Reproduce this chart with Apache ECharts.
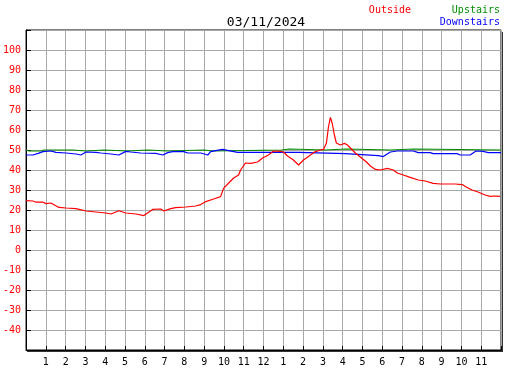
<!DOCTYPE html>
<html>
<head>
<meta charset="utf-8">
<script src="https://cdn.jsdelivr.net/npm/echarts@6/dist/echarts.min.js"></script>
<style>
  html, body { margin: 0; padding: 0; background: #fff; }
  #chart { width: 527px; height: 370px; }
</style>
</head>
<body>
<div id="chart"></div>
<script>
// outside temperature (hour of day, value)
var outsideHours = [0, 0.35, 0.5, 0.86, 1.01, 1.26, 1.66, 2.02, 2.52, 3.03, 3.53, 4.03, 4.29, 4.69, 5.04, 5.55, 5.95,
  6.4, 6.81, 6.96, 7.31, 7.56, 8.07, 8.57, 8.83, 9.08, 9.48, 9.83, 9.98, 10.24, 10.49, 10.74, 10.84, 11.09, 11.35,
  11.7, 11.95, 12.25, 12.51, 12.86, 13.01, 13.21, 13.51, 13.77, 14.02, 14.37, 14.62, 14.88, 15.03, 15.18, 15.28,
  15.38, 15.48, 15.58, 15.68, 15.88, 16.09, 16.24, 16.39, 16.64, 16.89, 17.2, 17.4, 17.65, 17.9, 18.26, 18.56,
  18.76, 19.06, 19.41, 19.82, 20.17, 20.57, 20.93, 21.68, 22.04, 22.24, 22.54, 22.84, 23.2, 23.45, 23.7, 23.95]
var outsideTemps = [24.7, 24.5, 23.9, 23.9, 23.2, 23.5, 21.3, 21.0, 20.7, 19.5, 19.0, 18.5, 18.0, 19.6, 18.5, 18.0, 17.2,
  20.3, 20.5, 19.5, 20.7, 21.2, 21.5, 22.0, 22.7, 24.2, 25.5, 26.7, 30.8, 33.5, 36.0, 37.5, 40.0, 43.5, 43.3,
  44.0, 46.0, 47.5, 49.5, 49.3, 49.0, 47.0, 45.0, 42.5, 45.0, 47.5, 49.2, 50.0, 50.3, 53.5, 61.5,
  66.3, 63.0, 57.5, 53.5, 52.5, 53.3, 52.5, 51.0, 48.5, 46.5, 44.0, 42.0, 40.3, 40.0, 40.8, 40.0,
  38.5, 37.5, 36.3, 35.0, 34.5, 33.3, 33.0, 33.0, 32.7, 31.5, 30.0, 29.0, 27.5, 26.8, 27.0, 26.8]

// upstairs
var upstairsHours = [0, 0.15, 0.76, 0.91, 2.37, 2.47, 3.03, 3.13, 3.93, 4.03, 5.14, 5.24, 6.15, 6.25, 7.16, 7.26,
  9.0, 9.08, 9.43, 9.53, 12.9, 13.0, 13.3, 13.4, 15.1, 15.2, 16.2, 16.3, 18.4, 18.5, 19.6, 19.7, 24]
var upstairsTemps = [50, 49.5, 49.5, 50, 50, 49.5, 49.5, 50, 50, 49.5, 49.5, 50, 50, 49.5, 49.5, 50,
  50, 49.5, 49.5, 50, 50, 50.5, 50.5, 50, 50, 50.5, 50.5, 50, 50, 50.5, 50.5, 50, 50]

// downstairs
var downstairsHours = [0, 0.35, 0.61, 0.86, 1.26, 1.51, 2.02, 2.52, 2.77, 3.03, 3.53, 3.78, 4.29, 4.69, 5.04, 5.29,
  5.8, 6.56, 6.91, 7.16, 7.41, 7.97, 8.17, 8.83, 9.18, 9.33, 9.58, 9.93, 10.24, 10.69, 13.77, 13.87, 16.14,
  16.24, 17.8, 18.05, 18.41, 18.76, 19.57, 19.82, 20.42, 20.57, 21.78, 21.94, 22.44, 22.74, 23.1, 23.35, 24]
var downstairsTemps = [47.5, 47.5, 48.3, 49.2, 49.5, 48.8, 48.5, 48.0, 47.5, 49.0, 48.8, 48.5, 48.0, 47.5, 49.3, 49.0,
  48.5, 48.3, 47.5, 48.7, 49.2, 49.2, 48.5, 48.5, 47.5, 49.2, 49.7, 50.3, 49.7, 48.8, 48.8, 48.2, 48.2,
  47.3, 47.2, 46.7, 49.0, 49.5, 49.5, 48.7, 48.7, 48.2, 48.2, 47.5, 47.5, 49.5, 49.3, 48.7, 48.7]

var titleText = '03/11/2024'
var yMin = -50
var yMax = 110

function pairs(xs, ys) {
  return xs.map(function (x, i) { return [x, ys[i]] })
}

var font = 'DejaVu Sans Mono'
var myChart = echarts.init(document.getElementById('chart'))

var option = {
  animation: false,
  backgroundColor: '#fff',
  title: {
    text: titleText,
    left: 261,
    top: 11,
    textAlign: 'center',
    textStyle: { fontFamily: font, fontSize: 13, fontWeight: 'normal', color: '#000' },
  },
  graphic: [
    // plot shadow on the right and bottom
    { type: 'rect', left: 501, top: 32, shape: { width: 2, height: 320 }, style: { fill: '#333' }, silent: true },
    { type: 'rect', left: 27, top: 350, shape: { width: 476, height: 2 }, style: { fill: '#333' }, silent: true },
    { type: 'text', right: 116, top: 5, style: { text: 'Outside', fill: '#ff0000', font: '10px ' + font } },
    { type: 'text', right: 27, top: 5, style: { text: 'Upstairs', fill: '#009000', font: '10px ' + font } },
    { type: 'text', right: 27, top: 17, style: { text: 'Downstairs', fill: '#0000ff', font: '10px ' + font } },
  ],
  grid: {
    left: 25,
    top: 30,
    width: 476,
    height: 320,
    show: true,
    borderColor: '#000',
    borderWidth: 1,
    backgroundColor: '#fff',
  },
  xAxis: {
    type: 'value',
    min: 0,
    max: 24,
    interval: 1,
    axisLine: { show: true, onZero: false, lineStyle: { color: '#000' } },
    axisTick: { show: true, inside: true, length: 4, lineStyle: { color: '#000' } },
    splitLine: { show: true, lineStyle: { color: '#a8a8a8', width: 1 } },
    axisLabel: {
      color: '#000',
      fontFamily: font,
      fontSize: 10,
      margin: 7,
      formatter: function (h) {
        if (h <= 0 || h >= 24) return ''
        return String(h % 12 === 0 ? 12 : h % 12)
      },
    },
  },
  yAxis: {
    type: 'value',
    min: yMin,
    max: yMax,
    interval: 10,
    axisLine: { show: true, onZero: false, lineStyle: { color: '#000' } },
    axisTick: { show: true, inside: true, length: 5, lineStyle: { color: '#000' } },
    splitLine: { show: true, lineStyle: { color: '#a8a8a8', width: 1 } },
    axisLabel: {
      color: '#ff0000',
      fontFamily: font,
      fontSize: 10,
      margin: 5,
      formatter: function (v) {
        if (v <= yMin || v >= yMax) return ''
        return String(v)
      },
    },
  },
  series: [
    {
      name: 'Upstairs',
      type: 'line',
      showSymbol: false,
      lineStyle: { color: '#008800', width: 1.2 },
      data: pairs(upstairsHours, upstairsTemps),
    },
    {
      name: 'Downstairs',
      type: 'line',
      showSymbol: false,
      lineStyle: { color: '#0000ff', width: 1.2 },
      data: pairs(downstairsHours, downstairsTemps),
    },
    {
      name: 'Outside',
      type: 'line',
      showSymbol: false,
      lineStyle: { color: '#ff0000', width: 1.2 },
      data: pairs(outsideHours, outsideTemps),
    },
  ],
}
myChart.setOption(option)
</script>
</body>
</html>
